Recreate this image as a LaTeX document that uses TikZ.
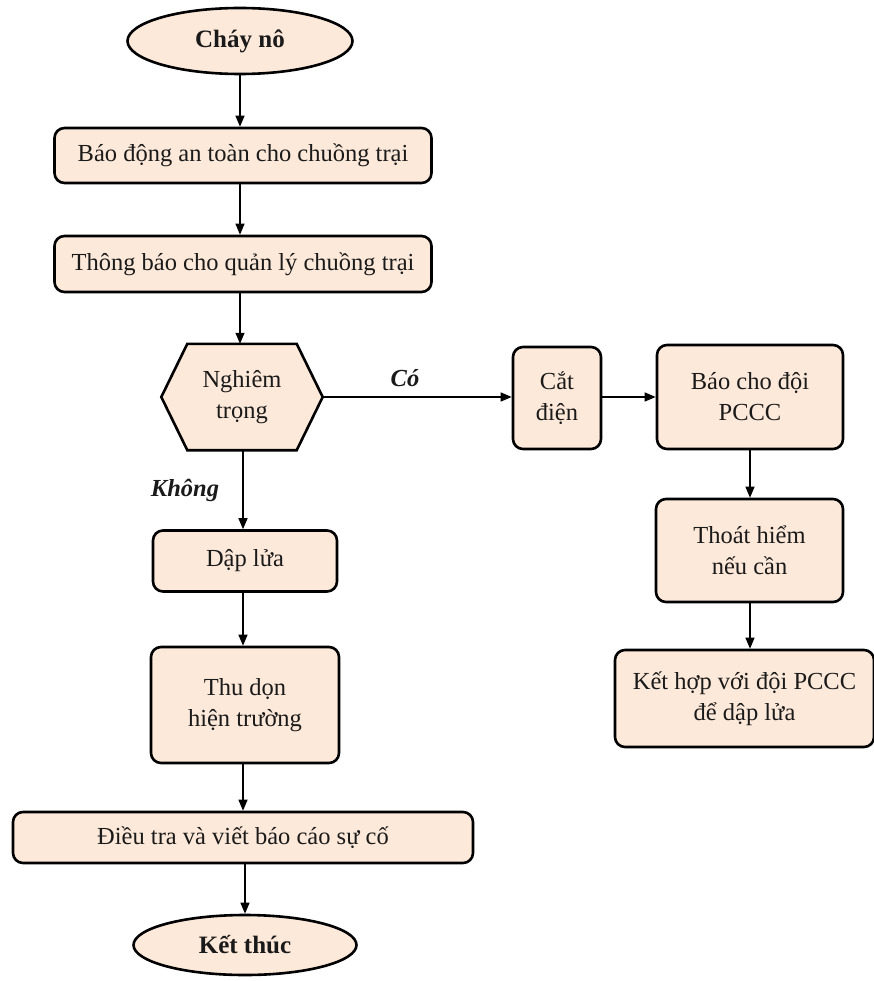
\documentclass[tikz,border=0pt]{standalone}
\usepackage{fontspec}
\setmainfont{Liberation Serif}
\usetikzlibrary{arrows.meta,shapes.geometric}
\definecolor{peach}{HTML}{FDE9D9}
\definecolor{ink}{HTML}{1A1A1A}
\begin{document}
\begin{tikzpicture}[x=1pt,y=-1pt,
  every node/.style={font=\fontsize{24.5}{31}\selectfont, text=ink, align=center, inner sep=0pt},
  stepbox/.style={draw=black, line width=2.6pt, fill=peach, rounded corners=10pt},
  terminal/.style={draw=black, line width=2.6pt, fill=peach, ellipse, font=\fontsize{25}{31}\selectfont\bfseries},
  flow/.style={line width=1.3pt, -{Triangle[length=11pt,width=9pt]}},
  tag/.style={font=\fontsize{24.5}{31}\selectfont\bfseries\itshape}]
\useasboundingbox (0,0) rectangle (874,981);

% left column
\node[terminal, minimum width=225pt, minimum height=66pt] (start) at (240,41) {Cháy nô};
\node[stepbox, minimum width=377pt, minimum height=55pt] (alarm) at (243,155.5) {Báo động an toàn cho chuồng trại};
\node[stepbox, minimum width=377pt, minimum height=56pt] (notify) at (243,264) {Thông báo cho quản lý chuồng trại};

% decision hexagon: an empty frame node, outline drawn from its anchors
\node[minimum width=161pt, minimum height=106pt] (serious) at (242,397) {};
\draw[line width=2.6pt, fill=peach, line join=miter]
  ([xshift=26pt]serious.north west) -- ([xshift=-26pt]serious.north east) -- (serious.east)
  -- ([xshift=-26pt]serious.south east) -- ([xshift=26pt]serious.south west) -- (serious.west) -- cycle;
\node (seriouslabel) at (serious.center) {Nghiêm\\trọng};

\node[stepbox, minimum width=184pt, minimum height=61pt] (douse) at (245,561) {Dập lửa};
\node[stepbox, minimum width=188pt, minimum height=116pt] (clean) at (245,705) {Thu dọn\\hiện trường};
\node[stepbox, minimum width=460pt, minimum height=51pt] (report) at (243,837.5) {Điều tra và viết báo cáo sự cố};
\node[terminal, minimum width=223pt, minimum height=60pt] (finish) at (245,945) {Kết thúc};
\coordinate (spine) at (243,0);

% right branch
\node[stepbox, minimum width=88pt, minimum height=102pt] (power) at (557,398) {Cắt\\điện};
\node[stepbox, minimum width=186pt, minimum height=104pt] (call) at (750,397) {Báo cho đội\\PCCC};
\node[stepbox, minimum width=187pt, minimum height=103pt] (evac) at (749.5,550.5) {Thoát hiểm\\nếu cần};
\node[stepbox, minimum width=259pt, minimum height=97pt] (joint) at (744.5,698.5) {Kết hợp với đội PCCC\\để dập lửa};

% connectors
\draw[flow] (start.south) -- (start.south |- alarm.north);
\draw[flow] (start.south |- alarm.south) -- (start.south |- notify.north);
\draw[flow] (start.south |- notify.south) -- (start.south |- serious.north);
\draw[flow] (serious.east) -- (power.west |- serious.east);
\draw[flow] (power.east |- call.west) -- (call.west);
\draw[flow] (call.south) -- (call.south |- evac.north);
\draw[flow] (call.south |- evac.south) -- (call.south |- joint.north);
\draw[flow] (spine |- serious.south) -- (spine |- douse.north);
\draw[flow] (spine |- douse.south) -- (spine |- clean.north);
\draw[flow] (spine |- clean.south) -- (spine |- report.north);
\draw[flow] (finish.north |- report.south) -- (finish.north);

% branch labels
\node[tag] (yes) at (405,378) {Có};
\node[tag] (no) at (185,490) {Không};
\end{tikzpicture}
\end{document}
